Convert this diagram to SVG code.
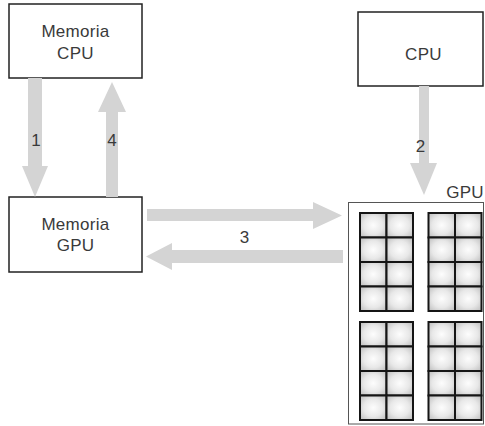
<svg xmlns="http://www.w3.org/2000/svg" xmlns:xlink="http://www.w3.org/1999/xlink" width="485" height="426" viewBox="0 0 485 426">
<style>
  .box { fill: #ffffff; stroke: #222222; stroke-width: 1.5; }
  .gpubox { fill: #ffffff; stroke: #555555; stroke-width: 1; }
  .lbl { font-family: "Liberation Sans", Arial, sans-serif; font-size: 17px; fill: #3a3a3a; text-anchor: middle; letter-spacing: 0.3px; }
  .num { font-family: "Liberation Sans", Arial, sans-serif; font-size: 17px; fill: #3a3a3a; text-anchor: middle; }
  .arrow { fill: #d4d4d4; stroke: none; }
  .cell { fill: url(#cellGrad); stroke: #151515; stroke-width: 2; }
</style>
<defs>
  <radialGradient id="cellGrad" cx="0.5" cy="0.5" r="0.6">
    <stop offset="0" stop-color="#fdfdfd"/>
    <stop offset="0.6" stop-color="#e8e8e8"/>
    <stop offset="1" stop-color="#c8c8c8"/>
  </radialGradient>
  <rect id="cell" class="cell" width="26.5" height="24.5"/>
</defs>
<rect width="485" height="426" fill="#ffffff"/>

<g id="mem-cpu">
  <rect class="box" x="9" y="4" width="133" height="74"/>
  <text class="lbl" x="75.5" y="37">Memoria</text>
  <text class="lbl" x="75.5" y="59">CPU</text>
</g>

<g id="cpu">
  <rect class="box" x="358" y="12" width="125" height="74"/>
  <text class="lbl" x="423.5" y="60">CPU</text>
</g>

<g id="mem-gpu">
  <rect class="box" x="9" y="197" width="133" height="75"/>
  <text class="lbl" x="75.5" y="230">Memoria</text>
  <text class="lbl" x="75.5" y="251">GPU</text>
</g>

<g id="gpu">
  <text class="lbl" x="465" y="198">GPU</text>
  <rect class="gpubox" x="348.5" y="202.5" width="135" height="221.5"/>
  <g id="gpu-block-tl">
    <use xlink:href="#cell" x="360" y="213"/><use xlink:href="#cell" x="386.5" y="213"/>
    <use xlink:href="#cell" x="360" y="237.5"/><use xlink:href="#cell" x="386.5" y="237.5"/>
    <use xlink:href="#cell" x="360" y="262"/><use xlink:href="#cell" x="386.5" y="262"/>
    <use xlink:href="#cell" x="360" y="286.5"/><use xlink:href="#cell" x="386.5" y="286.5"/>
  </g>
  <g id="gpu-block-tr">
    <use xlink:href="#cell" x="428.5" y="213"/><use xlink:href="#cell" x="455" y="213"/>
    <use xlink:href="#cell" x="428.5" y="237.5"/><use xlink:href="#cell" x="455" y="237.5"/>
    <use xlink:href="#cell" x="428.5" y="262"/><use xlink:href="#cell" x="455" y="262"/>
    <use xlink:href="#cell" x="428.5" y="286.5"/><use xlink:href="#cell" x="455" y="286.5"/>
  </g>
  <g id="gpu-block-bl">
    <use xlink:href="#cell" x="360" y="322"/><use xlink:href="#cell" x="386.5" y="322"/>
    <use xlink:href="#cell" x="360" y="346.5"/><use xlink:href="#cell" x="386.5" y="346.5"/>
    <use xlink:href="#cell" x="360" y="371"/><use xlink:href="#cell" x="386.5" y="371"/>
    <use xlink:href="#cell" x="360" y="395.5"/><use xlink:href="#cell" x="386.5" y="395.5"/>
  </g>
  <g id="gpu-block-br">
    <use xlink:href="#cell" x="428.5" y="322"/><use xlink:href="#cell" x="455" y="322"/>
    <use xlink:href="#cell" x="428.5" y="346.5"/><use xlink:href="#cell" x="455" y="346.5"/>
    <use xlink:href="#cell" x="428.5" y="371"/><use xlink:href="#cell" x="455" y="371"/>
    <use xlink:href="#cell" x="428.5" y="395.5"/><use xlink:href="#cell" x="455" y="395.5"/>
  </g>
</g>

<g id="connectors">
  <polygon class="arrow" points="28,78 42,78 42,166 48,166 35,197 22,166 28,166"/>
  <polygon class="arrow" points="106,197 118,197 118,112 126,112 112,82 98,112 106,112"/>
  <polygon class="arrow" points="419,86 429,86 429,163 437,163 424,195 410,163 419,163"/>
  <polygon class="arrow" points="147,209 313,209 313,202 342,215.5 313,229 313,221 147,221"/>
  <polygon class="arrow" points="343,250 343,263 172,263 172,270 146,256.5 172,243 172,250"/>
  <text class="num" x="36" y="146">1</text>
  <text class="num" x="112" y="146">4</text>
  <text class="num" x="420.5" y="152">2</text>
  <text class="num" x="244.5" y="243">3</text>
</g>
</svg>
